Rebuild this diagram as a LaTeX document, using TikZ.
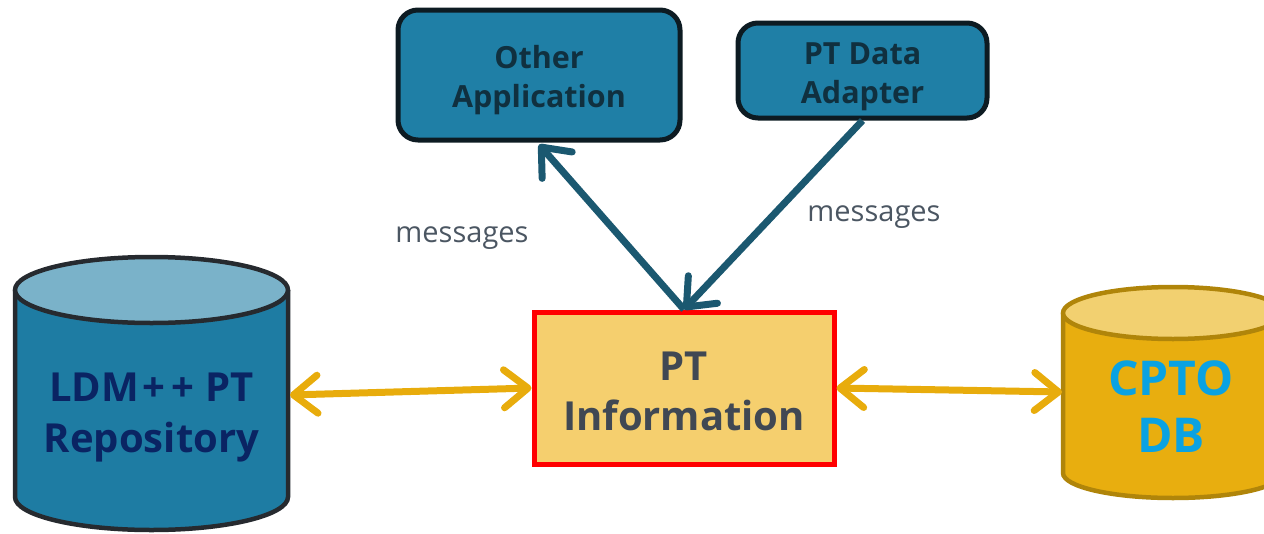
\documentclass[tikz,border=0pt]{standalone}
\usepackage{fontspec}
\setmainfont{Open Sans}
\usetikzlibrary{arrows.meta}
\definecolor{boxblue}{HTML}{1F7FA6}
\definecolor{boxline}{HTML}{0D1B22}
\definecolor{boxtext}{HTML}{10303F}
\definecolor{cylblue}{HTML}{1E7CA3}
\definecolor{cylbluetop}{HTML}{7AB2C9}
\definecolor{cylblueline}{HTML}{262A2F}
\definecolor{navytext}{HTML}{0A2463}
\definecolor{infofill}{HTML}{F5CF6E}
\definecolor{infoline}{HTML}{FF0000}
\definecolor{infotext}{HTML}{404853}
\definecolor{cylgold}{HTML}{E8AE0F}
\definecolor{cylgoldtop}{HTML}{F2D070}
\definecolor{cylgoldline}{HTML}{B0850A}
\definecolor{cyantext}{HTML}{0AA2E2}
\definecolor{arrowyellow}{HTML}{E8AC0C}
\definecolor{arrowdark}{HTML}{1B5870}
\definecolor{msgtext}{HTML}{4B5662}
\tikzset{
  ytip/.tip={Straight Barb[length=24pt,width=38pt,line cap=round,round]},
  dtip/.tip={Straight Barb[length=24pt,width=40pt,line cap=round,round]}
}
\begin{document}
\begin{tikzpicture}[x=1pt,y=1pt,
  appbox/.style={draw=boxline, fill=boxblue, line width=5pt, rounded corners=20pt, inner sep=0pt},
  applabel/.style={text=boxtext, align=center, inner sep=0pt, font=\fontsize{30.5}{39}\selectfont\bfseries},
  infobox/.style={draw=infoline, fill=infofill, line width=5pt, inner sep=0pt},
  infolabel/.style={text=infotext, align=center, inner sep=0pt, font=\fontsize{40}{50}\selectfont\bfseries},
  cyllabel/.style={align=center, inner sep=0pt, font=\fontsize{40}{51}\selectfont\bfseries},
  msg/.style={text=msgtext, inner sep=0pt, font=\fontsize{29}{32}\selectfont},
  bluecyl/.style={draw=cylblueline, line width=4.5pt},
  goldcyl/.style={draw=cylgoldline, line width=4.5pt},
  yarrow/.style={draw=arrowyellow, line width=7pt, {ytip}-{ytip}},
  darrow/.style={draw=arrowdark, line width=7pt, -{dtip}}
]
\useasboundingbox (0,0) rectangle (1264,-533);

% left cylinder
\fill[cylblue] (15,-290) -- (15,-497) arc[start angle=180,end angle=360,x radius=136.5,y radius=33]
  -- (288,-290) -- cycle;
\draw[bluecyl] (15,-290) -- (15,-497) arc[start angle=180,end angle=360,x radius=136.5,y radius=33]
  -- (288,-290);
\filldraw[bluecyl, fill=cylbluetop] (151.5,-290) ellipse[x radius=136.5,y radius=33];
\node[cyllabel, text=navytext] (ldm) at (151.5,-418) {LDM\kern3pt+\kern6pt+\kern1pt{} PT\\Repository};
\coordinate (ldmport) at (290,-395);

% right cylinder
\fill[cylgold] (1063,-313) -- (1063,-473) arc[start angle=180,end angle=360,x radius=110,y radius=25]
  -- (1283,-313) -- cycle;
\draw[goldcyl] (1063,-313) -- (1063,-473) arc[start angle=180,end angle=360,x radius=110,y radius=25]
  -- (1283,-313);
\filldraw[goldcyl, fill=cylgoldtop] (1173,-313) ellipse[x radius=110,y radius=26];
\node[cyllabel, text=cyantext, font=\fontsize{48}{57}\selectfont\bfseries] (cpto) at (1171,-407) {CPTO\\DB};
\coordinate (cptoport) at (1062,-392);

% boxes
\node[appbox, minimum width=282, minimum height=130] (other) at (539,-75) {};
\node[applabel] (otherlabel) at (539,-80) {Other\\Application};
\node[appbox, minimum width=249, minimum height=95] (adapter) at (862.5,-70.5) {};
\node[applabel] (adapterlabel) at (862.5,-77) {PT Data\\Adapter};
\node[infobox, minimum width=300, minimum height=152] (info) at (684,-388) {};
\node[infolabel] (infolabel) at (684,-391) {PT\\Information};

% connectors
\draw[yarrow] (ldmport) -- (info.west);
\draw[yarrow] (info.east) -- (cptoport);
\draw[darrow] (info.north) -- ([yshift=-2pt]other.south);
\draw[darrow] (adapter.south) -- (info.north);

% labels
\node[msg] (msgleft) at (462,-238) {messages};
\node[msg] (msgright) at (874,-217) {messages};
\end{tikzpicture}
\end{document}
